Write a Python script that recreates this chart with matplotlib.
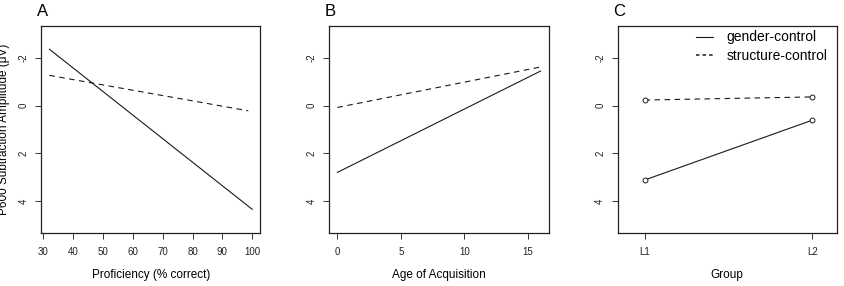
import matplotlib.pyplot as plt
from matplotlib.lines import Line2D

plt.rcParams['font.family'] = ['Liberation Sans', 'DejaVu Sans']

# panel A: proficiency
prof_x = [32, 100]
prof_gender = [-2.35, 4.33]
prof_x_struct = [32, 98.7]
prof_struct = [-1.26, 0.22]

# panel B: age of acquisition
aoa_x = [0, 16]
aoa_gender = [2.79, -1.44]
aoa_struct = [0.08, -1.61]

# panel C: group
groups = ['L1', 'L2']
grp_gender = [3.11, 0.61]
grp_struct = [-0.23, -0.36]
series_names = ['gender-control', 'structure-control']

fig = plt.figure(figsize=(8.44, 2.86), dpi=100)
W, H = 844, 286


def make_ax(left, right, top=26, bottom=233):
    return fig.add_axes([left / W, 1 - bottom / H, (right - left) / W, (bottom - top) / H])


axA = make_ax(41.3, 260.3)
axB = make_ax(329.3, 548.7)
axC = make_ax(617.7, 836.7)

lc = '#1a1a1a'
lw = 0.8
dash = (0, (5, 4))

axA.plot(prof_x, prof_gender, color=lc, lw=lw)
axA.plot(prof_x_struct, prof_struct, color=lc, lw=lw, linestyle=dash)
axA.set_xlim(29.28, 102.72)
axA.set_xticks([30, 40, 50, 60, 70, 80, 90, 100])
axA.set_xlabel('Proficiency (% correct)', fontsize=8.5, labelpad=9)
axA.set_ylabel('P600 Subtraction Amplitude (μV)', fontsize=8.5, labelpad=6)

axB.plot(aoa_x, aoa_gender, color=lc, lw=lw)
axB.plot(aoa_x, aoa_struct, color=lc, lw=lw, linestyle=dash)
axB.set_xlim(-0.64, 16.64)
axB.set_xticks([0, 5, 10, 15])
axB.set_xlabel('Age of Acquisition', fontsize=8.5, labelpad=9)

gx = [1, 2]
axC.plot(gx, grp_gender, color=lc, lw=lw, marker='o', ms=3.5, mfc='white', mec=lc, mew=0.7)
axC.plot(gx, grp_struct, color=lc, lw=lw, linestyle=dash, marker='o', ms=3.5, mfc='white',
         mec=lc, mew=0.7)
axC.set_xlim(0.84, 2.145)
axC.set_xticks(gx)
axC.set_xticklabels(groups)
axC.set_xlabel('Group', fontsize=8.5, labelpad=9)
hh = [Line2D([], [], color=lc, lw=0.8),
      Line2D([], [], color=lc, lw=1.1, linestyle=(0, (2.3, 2)))]
axC.legend(hh, series_names, loc='upper right', frameon=False, fontsize=10,
           handlelength=1.25, handletextpad=0.95, bbox_to_anchor=(0.963, 0.985),
           borderaxespad=0.0, borderpad=0.1, labelspacing=0.3)

for ax, letter in zip([axA, axB, axC], ['A', 'B', 'C']):
    ax.set_ylim(5.32, -3.32)
    ax.set_yticks([-2, 0, 2, 4])
    ax.set_yticklabels(['-2', '0', '2', '4'], rotation=90, va='center')
    ax.tick_params(axis='both', labelsize=7, length=4, width=0.7, color='#333333',
                   labelcolor='#222222', direction='out')
    ax.tick_params(axis='x', pad=6)
    ax.tick_params(axis='y', pad=5)
    for s in ax.spines.values():
        s.set_linewidth(0.9)
        s.set_color('#222222')
    ax.text(-0.02, 1.035, letter, transform=ax.transAxes, fontsize=12, ha='left', va='bottom')

fig.savefig('out.png', dpi=100)
